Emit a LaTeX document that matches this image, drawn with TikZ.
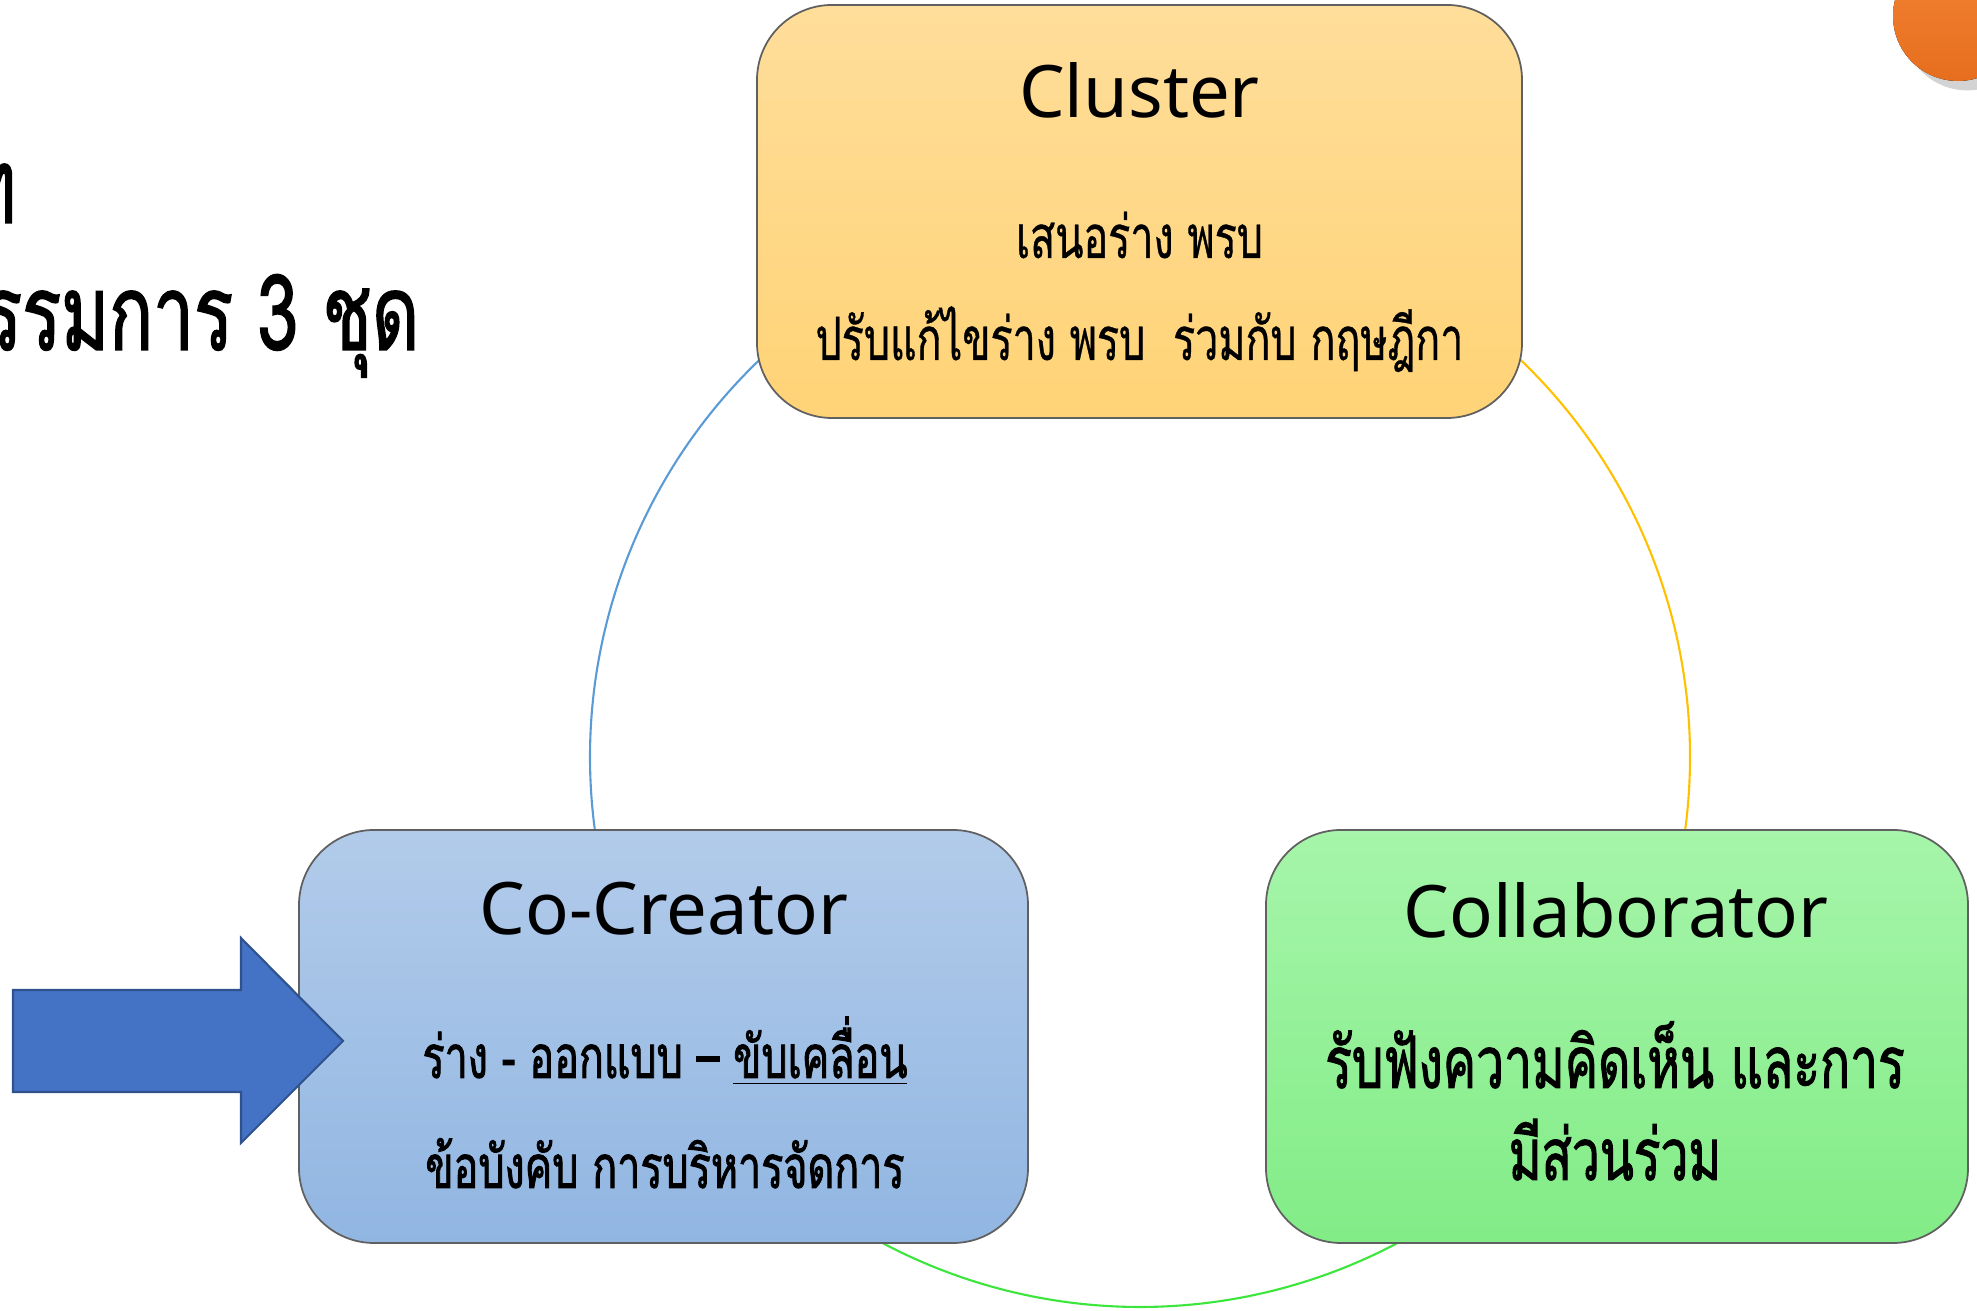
\documentclass[tikz,border=0pt]{standalone}
\usepackage{fontspec}
\setmainfont{Noto Sans}
\newfontfamily\thaifont[Script=Thai, FakeStretch=0.69, FakeBold=0.6]{Loma}
\newfontfamily\thaiheavy[Script=Thai, FakeStretch=0.69, FakeBold=1.4]{Loma}
\usetikzlibrary{shadows}
\definecolor{clustertop}{RGB}{255,222,155}
\definecolor{clusterbot}{RGB}{255,211,118}
\definecolor{cocreatortop}{RGB}{178,203,234}
\definecolor{cocreatorbot}{RGB}{145,182,226}
\definecolor{collabtop}{RGB}{166,245,170}
\definecolor{collabbot}{RGB}{130,236,134}
\definecolor{ringblue}{RGB}{91,155,213}
\definecolor{ringorange}{RGB}{255,192,0}
\definecolor{ringgreen}{RGB}{60,230,60}
\definecolor{arrowblue}{RGB}{68,114,196}
\definecolor{arrowedge}{RGB}{47,82,143}
\definecolor{dottop}{RGB}{242,132,52}
\definecolor{dotbot}{RGB}{230,110,30}
\tikzset{
  box/.style={draw=gray!75!black, line width=0.5pt, rounded corners=0.75cm, minimum height=4.13cm},
  boxtitle/.style={anchor=base, font=\fontsize{20.6}{25}\selectfont},
  boxline/.style={anchor=base, font=\thaifont\fontsize{17}{20}\selectfont},
  boldline/.style={anchor=base, font=\thaiheavy\fontsize{17}{20}\selectfont},
  bigline/.style={anchor=base, font=\thaiheavy\fontsize{20.5}{25}\selectfont},
  heading/.style={anchor=base east, inner sep=0pt, font=\thaiheavy\fontsize{30}{34}\selectfont},
  ringline/.style={line width=0.6pt}
}
\begin{document}
\begin{tikzpicture}
\useasboundingbox (0,0) rectangle (19.77,13.11);
\clip (0,0) rectangle (19.77,13.11);
% ring behind the boxes
\coordinate (ring) at (11.40,5.54);
\draw[ringline, ringblue] ([shift={(133:5.5)}]ring) arc[start angle=133, end angle=188, radius=5.5];
\draw[ringline, ringorange] ([shift={(47:5.5)}]ring) arc[start angle=47, end angle=-8, radius=5.5];
\draw[ringline, ringgreen] ([shift={(240:5.5)}]ring) arc[start angle=240, end angle=300, radius=5.5];
% heading
\node[heading] (headone) at (0.17,10.88) {ท};
\node[heading] (headtwo) at (4.20,9.61) {คณะกรรมการ 3 ชุด};
% Cluster
\node[box, top color=clustertop, bottom color=clusterbot, minimum width=7.65cm] (cluster) at (11.395,10.995) {};
\node[boxtitle] (clustertitle) at (11.395,11.93) {Cluster};
\node[boxline] (clusterone) at (11.395,10.53) {เสนอร่าง พรบ};
\node[boxline] (clustertwo) at (11.395,9.51) {ปรับแก้ไขร่าง พรบ\ \ ร่วมกับ กฤษฎีกา};
% Co-Creator
\node[box, top color=cocreatortop, bottom color=cocreatorbot, minimum width=7.29cm] (cocreator) at (6.635,2.745) {};
\node[boxtitle] (cocreatortitle) at (6.64,3.76) {Co-Creator};
\node[boldline] (cocreatorone) at (6.65,2.33) {ร่าง - ออกแบบ – \underline{ขับเคลื่อน}};
\node[boldline] (cocreatortwo) at (6.65,1.23) {ข้อบังคับ การบริหารจัดการ};
% Collaborator
\node[box, top color=collabtop, bottom color=collabbot, minimum width=7.02cm] (collab) at (16.17,2.745) {};
\node[boxtitle] (collabtitle) at (16.16,3.73) {Collaborator};
\node[bigline] (collabone) at (16.15,2.23) {รับฟังความคิดเห็น และการ};
\node[bigline] (collabtwo) at (16.15,1.31) {มีส่วนร่วม};
% arrow into Co-Creator
\draw[fill=arrowblue, draw=arrowedge, line width=0.6pt] (0.13,3.21) -- (2.41,3.21) -- (2.41,3.73) -- (3.43,2.70) -- (2.41,1.68) -- (2.41,2.19) -- (0.13,2.19) -- cycle;
% orange dot in the corner
\fill[top color=dottop, bottom color=dotbot, drop shadow={opacity=0.35}] (19.58,12.95) circle (0.65);
\end{tikzpicture}
\end{document}
